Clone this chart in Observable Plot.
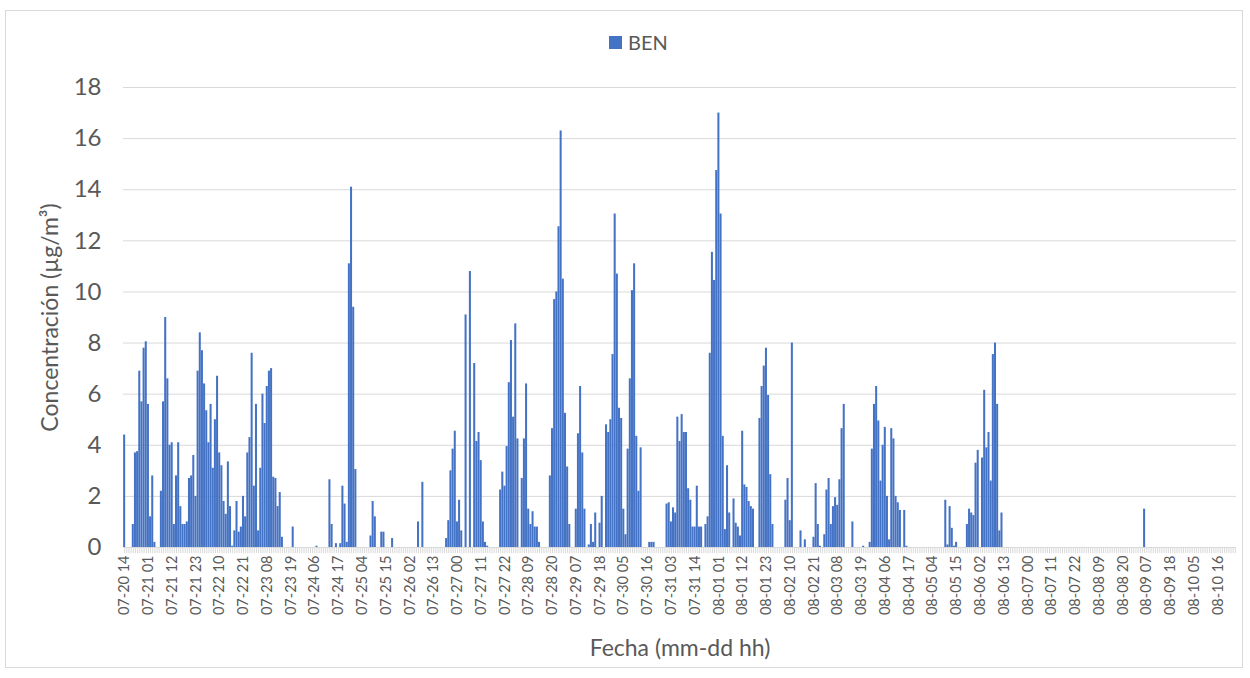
<!DOCTYPE html>
<html><head><meta charset="utf-8">
<script src="https://cdn.jsdelivr.net/npm/d3@7"></script>
<script src="https://cdn.jsdelivr.net/npm/@observablehq/plot@0.6"></script>
<style>
body{margin:0;background:#fff;font-family:Lato,"Open Sans",sans-serif;}
#wrap{position:relative;width:1250px;height:678px;}
#frame{position:absolute;left:5px;top:10px;width:1238px;height:658px;border:1px solid #d9d9d9;box-sizing:border-box;pointer-events:none}
#legend{position:absolute;left:609px;top:30px;font-size:20px;color:#595959;display:flex;align-items:center;font-family:Lato,"Open Sans",sans-serif}
#legend .sw{width:13px;height:13px;background:#4472C4;margin-right:6px;display:inline-block}
#chart{position:absolute;left:0;top:0}
</style></head><body>
<div id="wrap"><div id="chart"></div><div id="frame"></div><div id="legend"><span class="sw"></span>BEN</div></div>
<script>
const seriesName = "BEN";
const startTime = "2021-07-20T14:00Z"; // first hourly category: 07-20 14
const yTitle = "Concentración (µg/m³)";
const xTitle = "Fecha (mm-dd hh)";
const yTicks = [0, 2, 4, 6, 8, 10, 12, 14, 16, 18];
const tickLabels = ["07-20 14","07-21 01","07-21 12","07-21 23","07-22 10","07-22 21","07-23 08","07-23 19","07-24 06","07-24 17","07-25 04","07-25 15","07-26 02","07-26 13","07-27 00","07-27 11","07-27 22","07-28 09","07-28 20","07-29 07","07-29 18","07-30 05","07-30 16","07-31 03","07-31 14","08-01 01","08-01 12","08-01 23","08-02 10","08-02 21","08-03 08","08-03 19","08-04 06","08-04 17","08-05 04","08-05 15","08-06 02","08-06 13","08-07 00","08-07 11","08-07 22","08-08 09","08-08 20","08-09 07","08-09 18","08-10 05","08-10 16"];
// hourly BEN values, one row per 24 h starting at 07-20 14
const values = [
4.4,0,0,0,0.9,3.7,3.75,6.9,5.7,7.8,8.05,5.6,1.2,2.8,0.2,0,0,2.2,5.7,9.0,6.6,4.0,4.1,0.9,
2.8,4.1,1.6,0.9,0.9,1.0,2.7,2.8,3.6,2.0,6.9,8.4,7.7,6.4,5.35,4.1,5.6,3.1,5.0,6.7,3.7,3.2,1.8,1.3,
3.35,1.6,0.05,0.65,1.8,0.6,0.8,2.0,1.2,3.7,4.3,7.6,2.4,5.6,0.65,3.1,6.0,4.85,6.3,6.9,7.0,2.75,2.7,1.6,
2.15,0.4,0,0,0,0,0.8,0,0,0,0,0,0,0,0,0,0,0.05,0,0,0,0,0,2.65,
0.9,0,0.15,0,0.15,2.4,1.7,0.2,11.1,14.1,9.4,3.05,0,0,0,0,0,0,0.45,1.8,1.2,0,0,0.6,
0.6,0,0,0,0.35,0,0,0,0,0,0,0,0,0,0,0,1.0,0,2.55,0,0,0,0,0,
0,0,0,0,0,0.35,1.05,3.0,3.85,4.55,1.0,1.85,0.65,0,9.1,0,10.8,0,7.2,4.15,4.5,3.4,1.0,0.2,
0.05,0,0,0,0,0,2.25,2.95,2.4,3.95,6.45,8.1,5.1,8.75,4.25,0,2.7,4.25,6.4,1.5,0.9,1.4,0.8,0.8,
0.2,0,0,0,0,2.8,4.65,9.7,10.0,12.55,16.3,10.5,5.25,3.15,0.9,0,0,1.5,4.45,6.3,3.7,1.5,0,0.1,
0.9,0.2,1.35,0,0.95,2.0,0,4.8,4.5,5.0,7.55,13.05,10.7,5.45,5.05,1.5,0.5,3.85,6.6,10.05,11.1,4.35,2.2,3.9,
0,0,0,0.2,0.2,0.2,0,0,0,0,0,1.7,1.75,1.0,1.55,1.35,5.1,4.15,5.2,4.5,4.5,2.3,1.85,0.8,
0.8,2.4,0.8,0.8,0,0.9,1.2,7.6,11.55,10.45,14.75,17.0,13.05,4.35,0.7,3.2,1.35,0,1.9,0.95,0.8,0.45,4.55,2.45,
2.35,1.8,1.6,1.5,0,0,5.05,6.3,7.1,7.8,5.95,2.85,0.9,0,0,0,0,0,1.85,2.7,1.05,8.0,0,0,
0,0.65,0,0.3,0,0,0,0.4,2.5,0.9,0.05,0,0.5,2.25,2.7,0.9,1.6,1.95,1.65,2.65,4.65,5.6,0,0,
0,1.0,0,0,0,0,0.05,0,0,0.2,3.85,5.6,6.3,4.95,2.6,4.0,4.7,2.0,0.3,4.65,4.25,2.0,1.75,1.45,
0,1.45,0.05,0,0,0,0,0,0,0,0,0,0,0,0,0,0,0,0,0,1.85,0.1,1.6,0.75,
0.05,0.2,0,0,0,0,0.9,1.5,1.35,1.25,3.3,3.8,0,3.5,6.15,3.9,4.5,2.6,7.55,8.0,5.6,0.65,1.35,0,
0,0,0,0,0,0,0,0,0,0,0,0,0,0,0,0,0,0,0,0,0,0,0,0,
0,0,0,0,0,0,0,0,0,0,0,0,0,0,0,0,0,0,0,0,0,0,0,0,
0,0,0,0,0,0,0,0,0,0,0,0,0,0,0,0,1.5,0,0,0,0,0,0,0,
0,0,0,0,0,0,0,0,0,0,0,0,0,0,0,0,0,0,0,0,0,0,0,0,
0,0,0,0,0,0,0,0,0,0,0
];

const fmt = d3.utcFormat("%m-%d %H");
const t0 = new Date(startTime);
const categories = values.map((_, i) => fmt(d3.utcHour.offset(t0, i)));
const data = values.map((v, i) => ({cat: categories[i], v, series: seriesName}));

const font = "Lato, 'Open Sans', sans-serif";
const chart = Plot.plot({
  width: 1250,
  height: 678,
  marginLeft: 123,
  marginRight: 14,
  marginTop: 87,
  marginBottom: 131,
  style: {fontFamily: font, color: "#595959", background: "transparent", overflow: "visible"},
  x: {type: "band", domain: categories, padding: 0.06, axis: null},
  y: {domain: [0, 18], axis: null},
  marks: [
    Plot.ruleY(yTicks, {stroke: "#d9d9d9", strokeWidth: 1}),
    Plot.ruleX(categories, {x: d => d, y1: 0, y2: -0.24, stroke: "#d9d9d9", strokeWidth: 1}),
    Plot.axisX({ticks: tickLabels, tickSize: 0, tickPadding: 8, tickRotate: -90, fontSize: 14.5, fill: "#595959", label: null}),
    Plot.axisY({ticks: yTicks, tickSize: 0, tickPadding: 22, fontSize: 24, fill: "#595959", label: null}),
    Plot.barY(data, {x: "cat", y: "v", fill: "#4472C4"}),
    Plot.text([yTitle], {frameAnchor: "left", textAnchor: "middle", dx: -73, rotate: -90, fontSize: 23, fill: "#595959"}),
    Plot.text([xTitle], {frameAnchor: "bottom", textAnchor: "middle", dy: 108, fontSize: 23, fill: "#595959"})
  ]
});
document.getElementById("chart").appendChild(chart);
</script>
</body></html>
